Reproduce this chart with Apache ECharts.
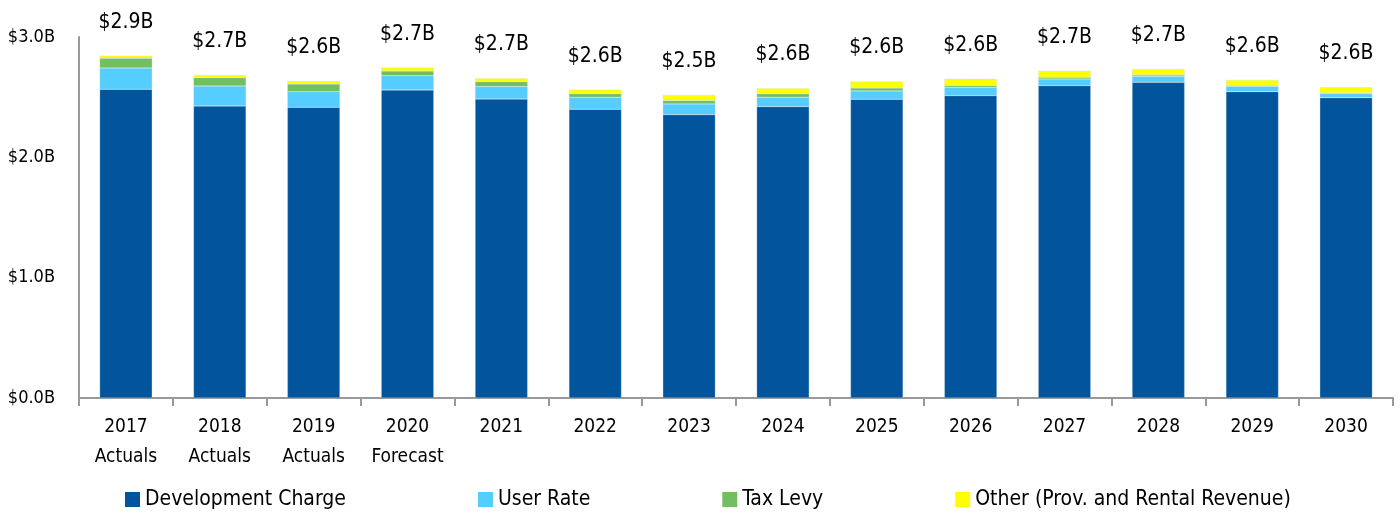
<!DOCTYPE html>
<html>
<head>
<meta charset="utf-8">
<script src="https://cdn.jsdelivr.net/npm/echarts@6/dist/echarts.min.js"></script>
<style>
    html, body { margin: 0; padding: 0; background: #fff; }
    #chart { width: 1400px; height: 519px; }
</style>
</head>
<body>
<div id="chart"></div>
<script>
const years = ['2017\nActuals', '2018\nActuals', '2019\nActuals', '2020\nForecast', '2021', '2022', '2023',
    '2024', '2025', '2026', '2027', '2028', '2029', '2030']
// $ billions
const devCharge = [2.566, 2.427, 2.416, 2.560, 2.485, 2.400, 2.355, 2.422, 2.483, 2.513, 2.596, 2.624, 2.546, 2.496]
const userRate = [0.177, 0.166, 0.130, 0.117, 0.103, 0.100, 0.089, 0.078, 0.069, 0.070, 0.056, 0.050, 0.045, 0.034]
const taxLevy = [0.081, 0.069, 0.064, 0.041, 0.041, 0.028, 0.028, 0.028, 0.025, 0.014, 0.014, 0.011, 0.005, 0.004]
const other = [0.021, 0.022, 0.025, 0.028, 0.029, 0.033, 0.047, 0.047, 0.053, 0.056, 0.053, 0.050, 0.047, 0.049]
const totalLabels = ['$2.9B', '$2.7B', '$2.6B', '$2.7B', '$2.7B', '$2.6B', '$2.5B', '$2.6B', '$2.6B', '$2.6B',
    '$2.7B', '$2.7B', '$2.6B', '$2.6B']

const font = '"DejaVu Sans Condensed"'

function paintFundingChart(dom) {
    let myChart = echarts.init(dom)
    const bar = (name, data, color) => ({
        name: name,
        type: 'bar',
        stack: 'total',
        barCategoryGap: '44%',
        itemStyle: { color: color, borderColor: 'rgba(190,215,235,0.6)', borderWidth: 0.5 },
        data: data,
    })
    let top = bar('Other (Prov. and Rental Revenue)', other, '#ffff00')
    top.label = {
        show: true,
        position: 'top',
        distance: 23,
        formatter: (p) => totalLabels[p.dataIndex],
        fontFamily: font,
        fontSize: 21,
        color: '#000',
    }
    let option = {
        animation: false,
        textStyle: { fontFamily: font },
        legend: {
            bottom: 4,
            left: 120,
            itemWidth: 15,
            itemHeight: 15,
            itemGap: 132,
            icon: 'rect',
            itemStyle: { borderWidth: 0 },
            textStyle: { fontFamily: font, fontSize: 21, color: '#000' },
        },
        grid: { left: 79, right: 7, top: 37, bottom: 121 },
        xAxis: {
            type: 'category',
            data: years,
            axisLine: { lineStyle: { color: '#999', width: 2 } },
            axisTick: { show: true, length: 8, lineStyle: { color: '#999', width: 2 } },
            axisLabel: {
                interval: 0,
                fontFamily: font,
                fontSize: 19,
                lineHeight: 30,
                margin: 14,
                color: '#000',
            },
        },
        yAxis: {
            type: 'value',
            min: 0,
            max: 3,
            interval: 1,
            splitLine: { show: false },
            axisLine: { show: true, lineStyle: { color: '#999', width: 2 } },
            axisTick: { show: false },
            axisLabel: {
                formatter: (v) => '$' + v.toFixed(1) + 'B',
                fontFamily: font,
                fontSize: 18,
                margin: 24,
                color: '#000',
            },
        },
        series: [
            bar('Development Charge', devCharge, '#02559c'),
            bar('User Rate', userRate, '#55cdff'),
            bar('Tax Levy', taxLevy, '#72bf5f'),
            top,
        ],
    }
    myChart.setOption(option)
}

paintFundingChart(document.querySelector('#chart'))
</script>
</body>
</html>
